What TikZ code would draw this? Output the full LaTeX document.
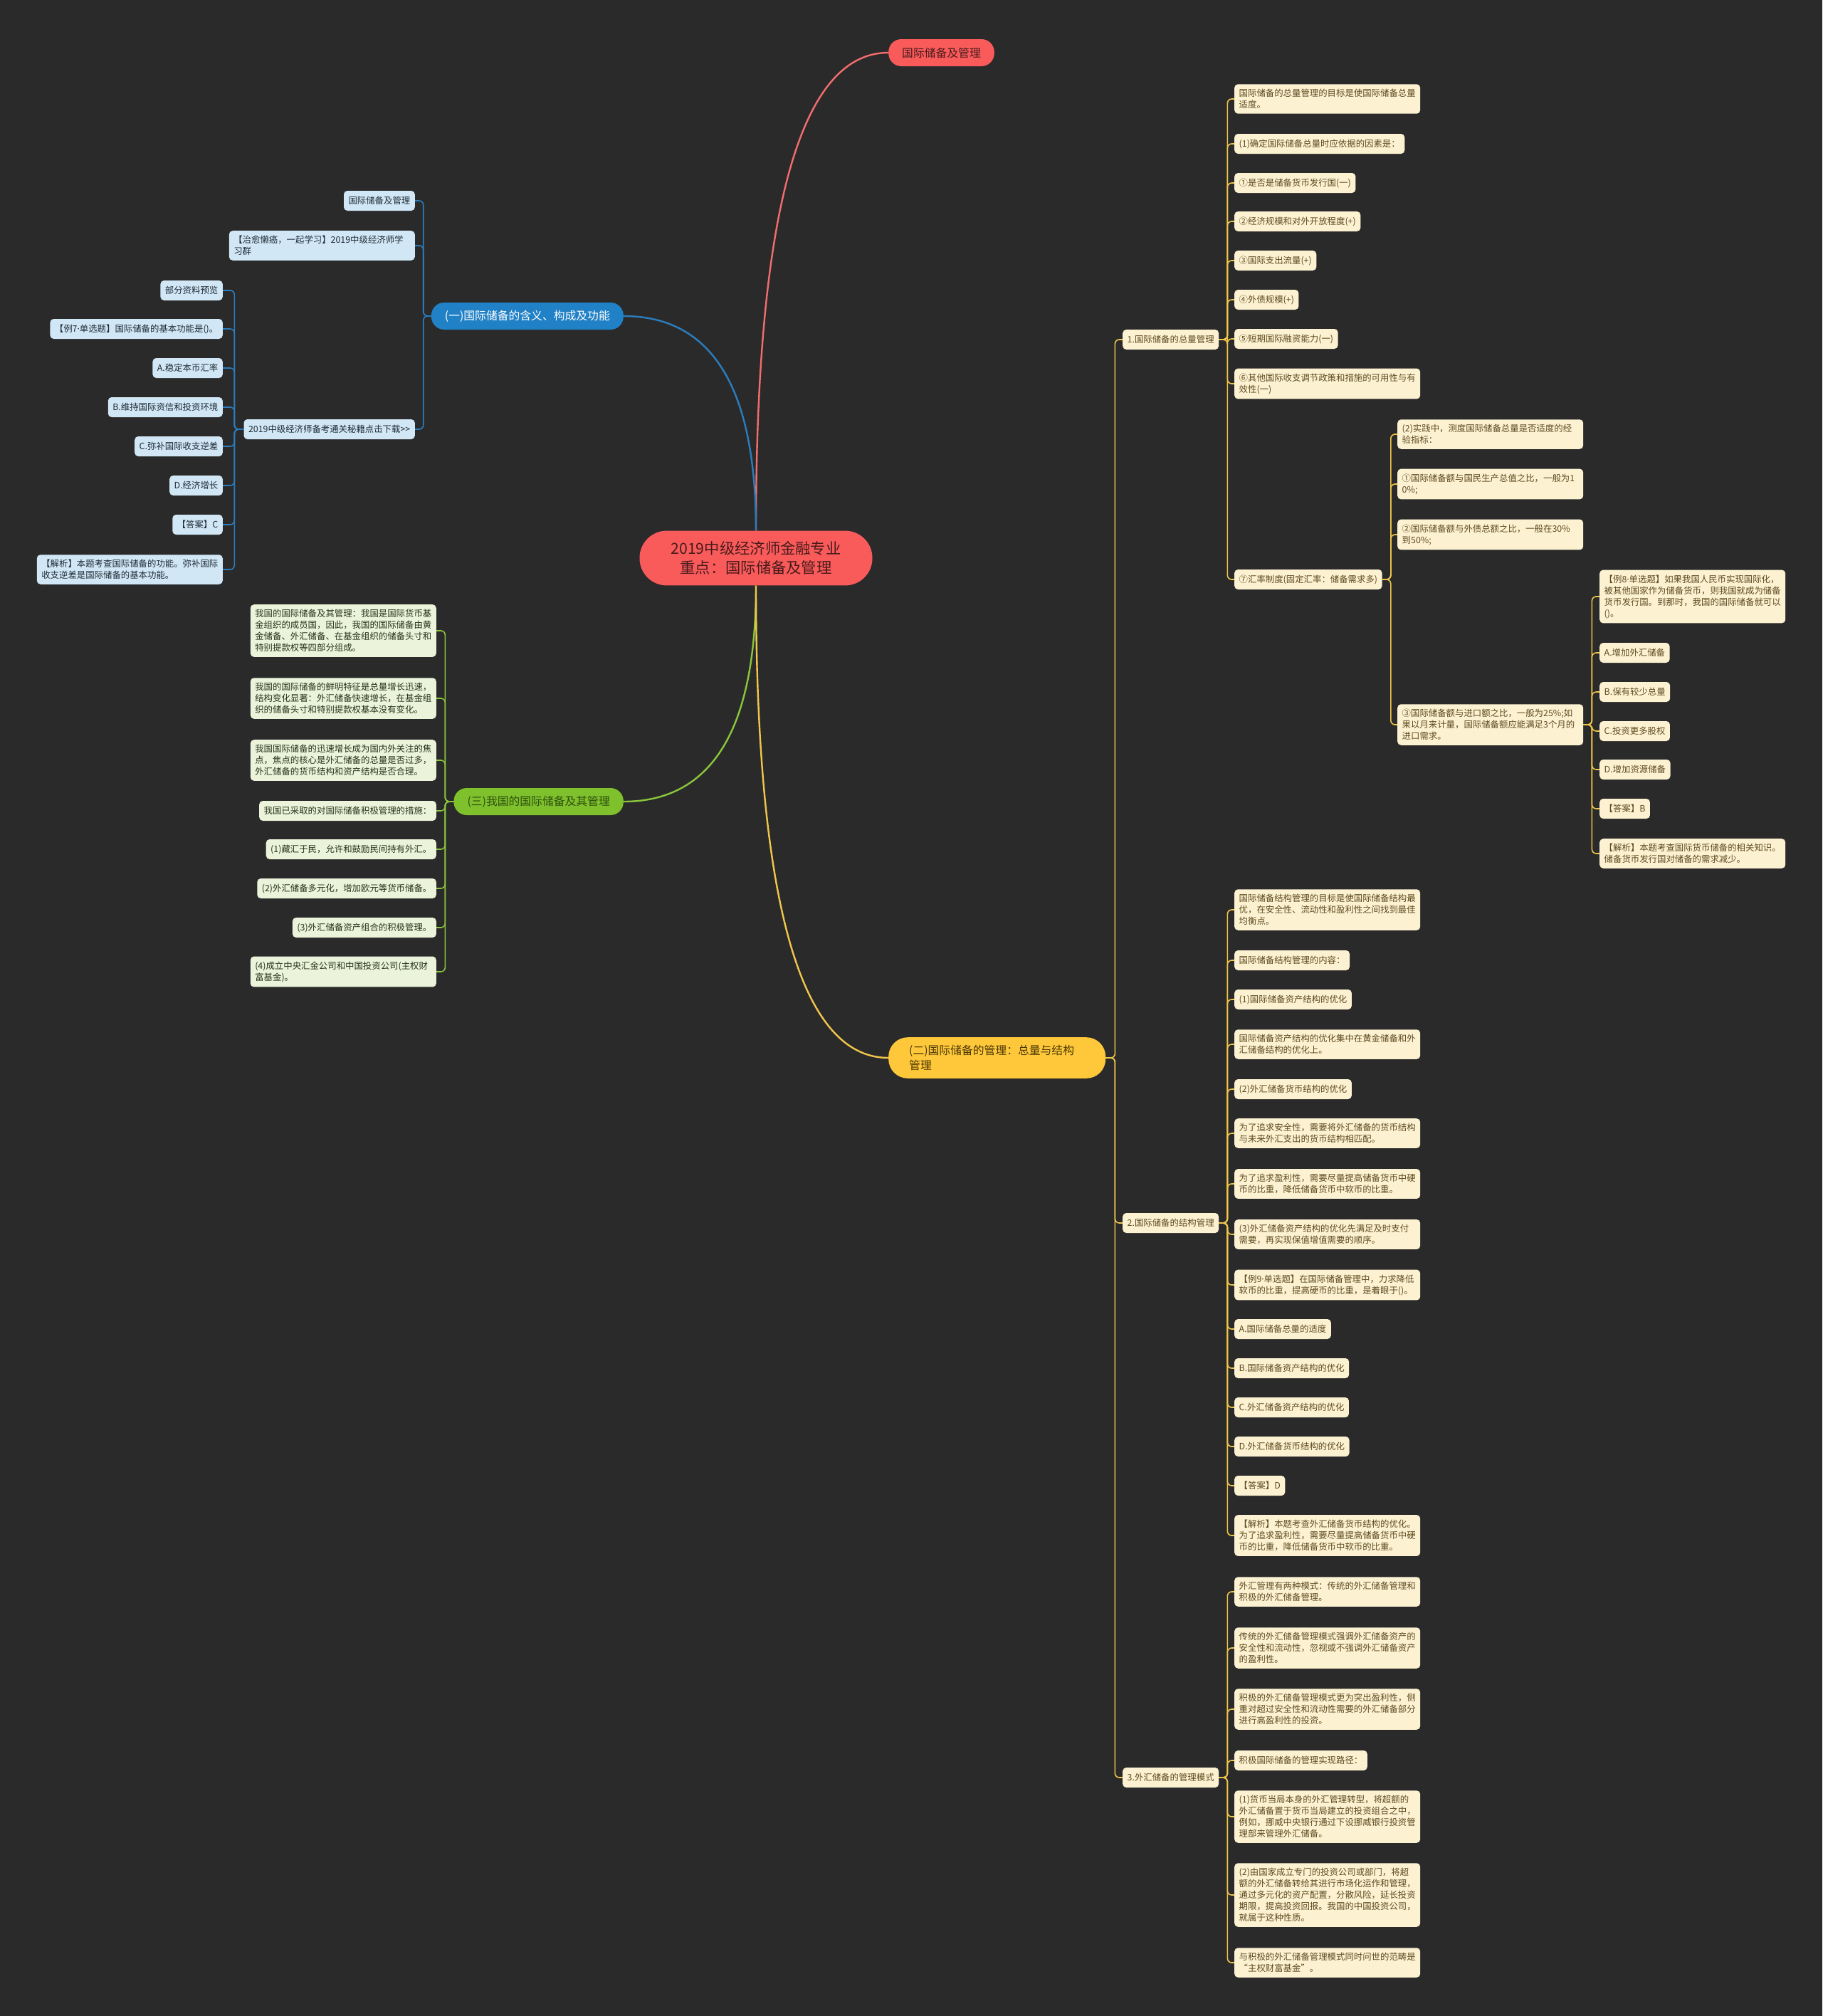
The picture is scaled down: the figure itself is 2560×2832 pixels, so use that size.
\documentclass[tikz,border=0pt]{standalone}
\usepackage{fontspec}
\setmainfont{Noto Sans CJK SC}
\newfontfamily\latinfont{Noto Sans}
\newcommand{\middot}{{\latinfont ·}}
\definecolor{bg}{HTML}{2A2A2A}
\definecolor{rootred}{HTML}{F95B5B}
\definecolor{roottext}{HTML}{4A1A1A}
\definecolor{redline}{HTML}{F26D6D}
\definecolor{bluemain}{HTML}{2181C6}
\definecolor{blueline}{HTML}{2B7DBE}
\definecolor{bluefill}{HTML}{D2E7F5}
\definecolor{bluetext}{HTML}{1D2B36}
\definecolor{greenmain}{HTML}{7EC12C}
\definecolor{greenline}{HTML}{8AC63C}
\definecolor{greenfill}{HTML}{EBF3DA}
\definecolor{greentext}{HTML}{26331A}
\definecolor{greenmaintext}{HTML}{2F4F0E}
\definecolor{yellowmain}{HTML}{FFC83A}
\definecolor{yellowline}{HTML}{F0C64A}
\definecolor{yellowfill}{HTML}{FCF2D2}
\definecolor{yellowtext}{HTML}{5E4A1F}
\definecolor{yellowmaintext}{HTML}{4A3806}
\begin{document}
\begin{tikzpicture}[x=1pt, y=-1pt,
  root/.style={rounded corners=38pt, fill=rootred, text=roottext, font=\fontsize{21.3}{27}\selectfont, align=center, inner xsep=44pt, inner ysep=15pt},
  main/.style={rounded corners=18pt, font=\fontsize{15.8}{21}\selectfont, inner xsep=19pt, inner ysep=9pt, minimum height=38pt},
  rmain/.style={main, fill=rootred, text=roottext},
  bmain/.style={main, fill=bluemain, text=white},
  gmain/.style={main, fill=greenmain, text=greenmaintext},
  ymain/.style={main, rounded corners=27pt, fill=yellowmain, text=yellowmaintext, text width=247pt, align=left, inner xsep=29pt, inner ysep=11pt},
  leaf/.style={rounded corners=5pt, font=\fontsize{12.4}{16}\selectfont, inner xsep=6.5pt, inner ysep=7pt, minimum height=28pt},
  wide/.style={text width=248pt, align=left},
  bleaf/.style={leaf, fill=bluefill, text=bluetext},
  gleaf/.style={leaf, fill=greenfill, text=greentext},
  yleaf/.style={leaf, fill=yellowfill, text=yellowtext},
  curve/.style={line width=2.4pt},
  blink/.style={draw=blueline, line width=1.6pt, rounded corners=6pt},
  glink/.style={draw=greenline, line width=1.6pt, rounded corners=6pt},
  ylink/.style={draw=yellowline, line width=1.6pt, rounded corners=6pt}
]

% === Background ===
\fill[bg] (0,0) rectangle (2560,2832);
\useasboundingbox (0,0) rectangle (2560,2832);

% === Root and main branches ===
\node[root] (R) at (1062,784) {2019中级经济师金融专业\\重点：国际储备及管理};
\node[rmain, anchor=west] (T) at (1248,74) {国际储备及管理};
\node[bmain, anchor=east] (B) at (876,444) {(一)国际储备的含义、构成及功能};
\node[gmain, anchor=east] (G) at (876,1126) {(三)我国的国际储备及其管理};
\node[ymain, anchor=west] (Y) at (1248,1486) {(二)国际储备的管理：总量与结构\\管理};

\draw[curve, redline] (R.north) .. controls +(0,-447) and +(-124,0) .. (T.west);
\draw[curve, blueline] (R.north) .. controls +(0,-201) and +(124,0) .. (B.east);
\draw[curve, greenline] (R.south) .. controls +(0,202) and +(124,0) .. (G.east);
\draw[curve, yellowline] (R.south) .. controls +(0,442) and +(-124,0) .. (Y.west);

% === Blue branch: (一) ===
\node[bleaf, anchor=east] (B1) at (583,282) {国际储备及管理};
\node[bleaf, wide, anchor=east] (B2) at (583,345) {【治愈懒癌，一起学习】2019中级经济师学\\习群};
\node[bleaf, anchor=east] (B3) at (583,603) {2019中级经济师备考通关秘籍点击下载>{}>};

\draw[blink] (B.west) -- ++(-11,0) |- (B1.east);
\draw[blink] (B.west) -- ++(-11,0) |- (B2.east);
\draw[blink] (B.west) -- ++(-11,0) |- (B3.east);

% question 7
\node[bleaf, anchor=east] (B3a) at (313,408) {部分资料预览};
\node[bleaf, anchor=east] (B3b) at (313,462) {【例7\middot 单选题】国际储备的基本功能是()。};
\node[bleaf, anchor=east] (B3c) at (313,517) {A.稳定本币汇率};
\node[bleaf, anchor=east] (B3d) at (313,572) {B.维持国际资信和投资环境};
\node[bleaf, anchor=east] (B3e) at (313,627) {C.弥补国际收支逆差};
\node[bleaf, anchor=east] (B3f) at (313,682) {D.经济增长};
\node[bleaf, anchor=east] (B3g) at (313,737) {【答案】C};
\node[bleaf, wide, anchor=east] (B3h) at (313,800) {【解析】本题考查国际储备的功能。弥补国际\\收支逆差是国际储备的基本功能。};

\draw[blink] (B3.west) -- ++(-13,0) |- (B3a.east);
\draw[blink] (B3.west) -- ++(-13,0) |- (B3b.east);
\draw[blink] (B3.west) -- ++(-13,0) |- (B3c.east);
\draw[blink] (B3.west) -- ++(-13,0) |- (B3d.east);
\draw[blink] (B3.west) -- ++(-13,0) |- (B3e.east);
\draw[blink] (B3.west) -- ++(-13,0) |- (B3f.east);
\draw[blink] (B3.west) -- ++(-13,0) |- (B3g.east);
\draw[blink] (B3.west) -- ++(-13,0) |- (B3h.east);

% === Green branch: (三) ===
\node[gleaf, wide, anchor=east] (G1) at (613,886) {我国的国际储备及其管理：我国是国际货币基\\金组织的成员国，因此，我国的国际储备由黄\\金储备、外汇储备、在基金组织的储备头寸和\\特别提款权等四部分组成。};
\node[gleaf, wide, anchor=east] (G2) at (613,981) {我国的国际储备的鲜明特征是总量增长迅速，\\结构变化显著：外汇储备快速增长，在基金组\\织的储备头寸和特别提款权基本没有变化。};
\node[gleaf, wide, anchor=east] (G3) at (613,1068) {我国国际储备的迅速增长成为国内外关注的焦\\点，焦点的核心是外汇储备的总量是否过多，\\外汇储备的货币结构和资产结构是否合理。};
\node[gleaf, anchor=east] (G4) at (613,1139) {我国已采取的对国际储备积极管理的措施：};
\node[gleaf, anchor=east] (G5) at (613,1193) {(1)藏汇于民，允许和鼓励民间持有外汇。};
\node[gleaf, anchor=east] (G6) at (613,1248) {(2)外汇储备多元化，增加欧元等货币储备。};
\node[gleaf, anchor=east] (G7) at (613,1303) {(3)外汇储备资产组合的积极管理。};
\node[gleaf, wide, anchor=east] (G8) at (613,1365) {(4)成立中央汇金公司和中国投资公司(主权财\\富基金)。};

\draw[glink] (G.west) -- ++(-12,0) |- (G1.east);
\draw[glink] (G.west) -- ++(-12,0) |- (G2.east);
\draw[glink] (G.west) -- ++(-12,0) |- (G3.east);
\draw[glink] (G.west) -- ++(-12,0) |- (G4.east);
\draw[glink] (G.west) -- ++(-12,0) |- (G5.east);
\draw[glink] (G.west) -- ++(-12,0) |- (G6.east);
\draw[glink] (G.west) -- ++(-12,0) |- (G7.east);
\draw[glink] (G.west) -- ++(-12,0) |- (G8.east);

% === Yellow branch: (二) ===
\node[yleaf, anchor=west] (Y1) at (1577,477) {1.国际储备的总量管理};
\node[yleaf, anchor=west] (Y2) at (1577,1718) {2.国际储备的结构管理};
\node[yleaf, anchor=west] (Y3) at (1577,2497) {3.外汇储备的管理模式};

\draw[ylink] (Y.east) -- ++(13,0) |- (Y1.west);
\draw[ylink] (Y.east) -- ++(13,0) |- (Y2.west);
\draw[ylink] (Y.east) -- ++(13,0) |- (Y3.west);

% 1. total amount
\node[yleaf, wide, anchor=west] (Y1a) at (1734,139) {国际储备的总量管理的目标是使国际储备总量\\适度。};
\node[yleaf, anchor=west] (Y1b) at (1734,202) {(1)确定国际储备总量时应依据的因素是：};
\node[yleaf, anchor=west] (Y1c) at (1734,257) {①是否是储备货币发行国(一)};
\node[yleaf, anchor=west] (Y1d) at (1734,311) {②经济规模和对外开放程度(+)};
\node[yleaf, anchor=west] (Y1e) at (1734,366) {③国际支出流量(+)};
\node[yleaf, anchor=west] (Y1f) at (1734,421) {④外债规模(+)};
\node[yleaf, anchor=west] (Y1g) at (1734,476) {⑤短期国际融资能力(一)};
\node[yleaf, wide, anchor=west] (Y1h) at (1734,539) {⑥其他国际收支调节政策和措施的可用性与有\\效性(一)};
\node[yleaf, anchor=west] (Y1i) at (1734,814) {⑦汇率制度(固定汇率：储备需求多)};

\draw[ylink] (Y1.east) -- ++(12,0) |- (Y1a.west);
\draw[ylink] (Y1.east) -- ++(12,0) |- (Y1b.west);
\draw[ylink] (Y1.east) -- ++(12,0) |- (Y1c.west);
\draw[ylink] (Y1.east) -- ++(12,0) |- (Y1d.west);
\draw[ylink] (Y1.east) -- ++(12,0) |- (Y1e.west);
\draw[ylink] (Y1.east) -- ++(12,0) |- (Y1f.west);
\draw[ylink] (Y1.east) -- ++(12,0) |- (Y1g.west);
\draw[ylink] (Y1.east) -- ++(12,0) |- (Y1h.west);
\draw[ylink] (Y1.east) -- ++(12,0) |- (Y1i.west);

% (2) indicators
\node[yleaf, wide, anchor=west] (Y1i1) at (1963,610) {(2)实践中，测度国际储备总量是否适度的经\\验指标：};
\node[yleaf, wide, anchor=west] (Y1i2) at (1963,680) {①国际储备额与国民生产总值之比，一般为1\\0\%;};
\node[yleaf, wide, anchor=west] (Y1i3) at (1963,751) {②国际储备额与外债总额之比，一般在30\%\\到50\%;};
\node[yleaf, wide, anchor=west] (Y1i4) at (1963,1018) {③国际储备额与进口额之比，一般为25\%;如\\果以月来计量，国际储备额应能满足3个月的\\进口需求。};

\draw[ylink] (Y1i.east) -- ++(12,0) |- (Y1i1.west);
\draw[ylink] (Y1i.east) -- ++(12,0) |- (Y1i2.west);
\draw[ylink] (Y1i.east) -- ++(12,0) |- (Y1i3.west);
\draw[ylink] (Y1i.east) -- ++(12,0) |- (Y1i4.west);

% question 8
\node[yleaf, wide, anchor=west] (Q1) at (2247,838) {【例8\middot 单选题】如果我国人民币实现国际化，\\被其他国家作为储备货币，则我国就成为储备\\货币发行国。到那时，我国的国际储备就可以\\()。};
\node[yleaf, anchor=west] (Q2) at (2247,917) {A.增加外汇储备};
\node[yleaf, anchor=west] (Q3) at (2247,972) {B.保有较少总量};
\node[yleaf, anchor=west] (Q4) at (2247,1027) {C.投资更多股权};
\node[yleaf, anchor=west] (Q5) at (2247,1081) {D.增加资源储备};
\node[yleaf, anchor=west] (Q6) at (2247,1136) {【答案】B};
\node[yleaf, wide, anchor=west] (Q7) at (2247,1199) {【解析】本题考查国际货币储备的相关知识。\\储备货币发行国对储备的需求减少。};

\draw[ylink] (Y1i4.east) -- ++(12,0) |- (Q1.west);
\draw[ylink] (Y1i4.east) -- ++(12,0) |- (Q2.west);
\draw[ylink] (Y1i4.east) -- ++(12,0) |- (Q3.west);
\draw[ylink] (Y1i4.east) -- ++(12,0) |- (Q4.west);
\draw[ylink] (Y1i4.east) -- ++(12,0) |- (Q5.west);
\draw[ylink] (Y1i4.east) -- ++(12,0) |- (Q6.west);
\draw[ylink] (Y1i4.east) -- ++(12,0) |- (Q7.west);

% 2. structure
\node[yleaf, wide, anchor=west] (Y2a) at (1734,1278) {国际储备结构管理的目标是使国际储备结构最\\优，在安全性、流动性和盈利性之间找到最佳\\均衡点。};
\node[yleaf, anchor=west] (Y2b) at (1734,1349) {国际储备结构管理的内容：};
\node[yleaf, anchor=west] (Y2c) at (1734,1404) {(1)国际储备资产结构的优化};
\node[yleaf, wide, anchor=west] (Y2d) at (1734,1467) {国际储备资产结构的优化集中在黄金储备和外\\汇储备结构的优化上。};
\node[yleaf, anchor=west] (Y2e) at (1734,1530) {(2)外汇储备货币结构的优化};
\node[yleaf, wide, anchor=west] (Y2f) at (1734,1592) {为了追求安全性，需要将外汇储备的货币结构\\与未来外汇支出的货币结构相匹配。};
\node[yleaf, wide, anchor=west] (Y2g) at (1734,1663) {为了追求盈利性，需要尽量提高储备货币中硬\\币的比重，降低储备货币中软币的比重。};
\node[yleaf, wide, anchor=west] (Y2h) at (1734,1734) {(3)外汇储备资产结构的优化先满足及时支付\\需要，再实现保值增值需要的顺序。};
\node[yleaf, wide, anchor=west] (Y2i) at (1734,1805) {【例9\middot 单选题】在国际储备管理中，力求降低\\软币的比重，提高硬币的比重，是着眼于()。};
\node[yleaf, anchor=west] (Y2j) at (1734,1867) {A.国际储备总量的适度};
\node[yleaf, anchor=west] (Y2k) at (1734,1922) {B.国际储备资产结构的优化};
\node[yleaf, anchor=west] (Y2l) at (1734,1977) {C.外汇储备资产结构的优化};
\node[yleaf, anchor=west] (Y2m) at (1734,2032) {D.外汇储备货币结构的优化};
\node[yleaf, anchor=west] (Y2n) at (1734,2087) {【答案】D};
\node[yleaf, wide, anchor=west] (Y2o) at (1734,2157) {【解析】本题考查外汇储备货币结构的优化。\\为了追求盈利性，需要尽量提高储备货币中硬\\币的比重，降低储备货币中软币的比重。};

\draw[ylink] (Y2.east) -- ++(12,0) |- (Y2a.west);
\draw[ylink] (Y2.east) -- ++(12,0) |- (Y2b.west);
\draw[ylink] (Y2.east) -- ++(12,0) |- (Y2c.west);
\draw[ylink] (Y2.east) -- ++(12,0) |- (Y2d.west);
\draw[ylink] (Y2.east) -- ++(12,0) |- (Y2e.west);
\draw[ylink] (Y2.east) -- ++(12,0) |- (Y2f.west);
\draw[ylink] (Y2.east) -- ++(12,0) |- (Y2g.west);
\draw[ylink] (Y2.east) -- ++(12,0) |- (Y2h.west);
\draw[ylink] (Y2.east) -- ++(12,0) |- (Y2i.west);
\draw[ylink] (Y2.east) -- ++(12,0) |- (Y2j.west);
\draw[ylink] (Y2.east) -- ++(12,0) |- (Y2k.west);
\draw[ylink] (Y2.east) -- ++(12,0) |- (Y2l.west);
\draw[ylink] (Y2.east) -- ++(12,0) |- (Y2m.west);
\draw[ylink] (Y2.east) -- ++(12,0) |- (Y2n.west);
\draw[ylink] (Y2.east) -- ++(12,0) |- (Y2o.west);

% 3. management modes
\node[yleaf, wide, anchor=west] (Y3a) at (1734,2236) {外汇管理有两种模式：传统的外汇储备管理和\\积极的外汇储备管理。};
\node[yleaf, wide, anchor=west] (Y3b) at (1734,2315) {传统的外汇储备管理模式强调外汇储备资产的\\安全性和流动性，忽视或不强调外汇储备资产\\的盈利性。};
\node[yleaf, wide, anchor=west] (Y3c) at (1734,2401) {积极的外汇储备管理模式更为突出盈利性，侧\\重对超过安全性和流动性需要的外汇储备部分\\进行高盈利性的投资。};
\node[yleaf, anchor=west] (Y3d) at (1734,2473) {积极国际储备的管理实现路径：};
\node[yleaf, wide, anchor=west] (Y3e) at (1734,2552) {(1)货币当局本身的外汇管理转型，将超额的\\外汇储备置于货币当局建立的投资组合之中，\\例如，挪威中央银行通过下设挪威银行投资管\\理部来管理外汇储备。};
\node[yleaf, wide, anchor=west] (Y3f) at (1734,2662) {(2)由国家成立专门的投资公司或部门，将超\\额的外汇储备转给其进行市场化运作和管理，\\通过多元化的资产配置，分散风险，延长投资\\期限，提高投资回报。我国的中国投资公司，\\就属于这种性质。};
\node[yleaf, wide, anchor=west] (Y3g) at (1734,2757) {与积极的外汇储备管理模式同时问世的范畴是\\“主权财富基金”。};

\draw[ylink] (Y3.east) -- ++(12,0) |- (Y3a.west);
\draw[ylink] (Y3.east) -- ++(12,0) |- (Y3b.west);
\draw[ylink] (Y3.east) -- ++(12,0) |- (Y3c.west);
\draw[ylink] (Y3.east) -- ++(12,0) |- (Y3d.west);
\draw[ylink] (Y3.east) -- ++(12,0) |- (Y3e.west);
\draw[ylink] (Y3.east) -- ++(12,0) |- (Y3f.west);
\draw[ylink] (Y3.east) -- ++(12,0) |- (Y3g.west);

\end{tikzpicture}
\end{document}
